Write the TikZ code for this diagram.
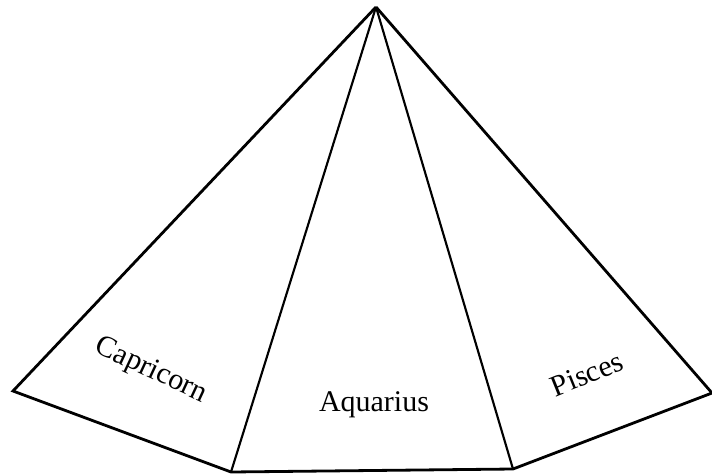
\documentclass[tikz,border=0pt]{standalone}
\usepackage{fontspec}
\setmainfont{Liberation Serif}
\usepackage{tikz}
\begin{document}
\begin{tikzpicture}[
  x=0.75pt, y=-0.75pt,
  outer/.style={draw=black, line width=2.1pt, line join=miter},
  inner/.style={draw=black, line width=1.6pt},
  sign/.style={inner sep=0pt, font=\fontsize{22.5}{26}\selectfont}]
  \useasboundingbox (0,0) rectangle (712,474);
  \coordinate (apex) at (376,7);
  \coordinate (left) at (13,391);
  \coordinate (baseL) at (231,472);
  \coordinate (baseR) at (513,469);
  \coordinate (right) at (712,393);
  \draw[outer] (apex) -- (left) -- (baseL) -- (baseR) -- (right) -- (apex);
  \draw[inner] (apex) -- (baseL);
  \draw[inner] (apex) -- (baseR);
  \node[sign, rotate=-25] (capricorn) at (151,371) {Capricorn};
  \node[sign] (aquarius) at (374,405) {Aquarius};
  \node[sign, rotate=22] (pisces) at (587,374) {Pisces};
\end{tikzpicture}
\end{document}
